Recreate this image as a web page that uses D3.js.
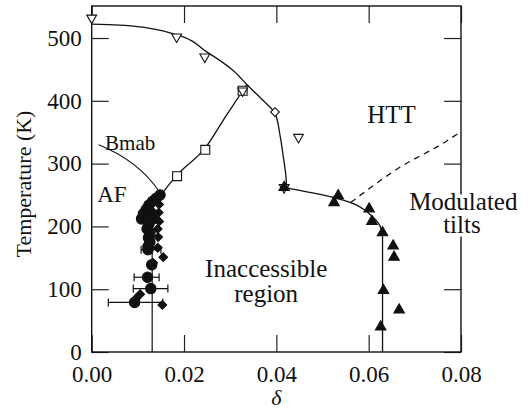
<!DOCTYPE html>
<html>
<head>
    <meta charset="utf-8" />
    <title>Phase diagram</title>
    <script src="https://d3js.org/d3.v7.min.js"></script>
    <style type='text/css'>
        body { margin: 0; background: #fff; }
        text { font-family: 'Liberation Serif', 'DejaVu Serif', serif; fill: #111; }
    </style>
</head>
<body>
    <script>
        // tick labels
        var xTicks = [0, 0.02, 0.04, 0.06, 0.08];
        var yTicks = [0, 100, 200, 300, 400, 500];

        // phase boundaries (delta, temperature)
        var httDelta = [0, 0.009, 0.0184, 0.0249, 0.0307, 0.0336, 0.0372, 0.0397, 0.0408, 0.0415, 0.0421, 0.0422];
        var httTemp = [522, 519, 505, 478, 448, 426, 400, 380, 345, 311, 278, 262];

        var tiltDelta = [0.0417, 0.043, 0.0495, 0.0561, 0.0603, 0.0625, 0.063, 0.063];
        var tiltTemp = [262, 260, 251, 238, 219, 200, 185, 0];

        var modDelta = [0.0561, 0.0661, 0.0769, 0.08];
        var modTemp = [238, 291, 336, 351];

        var bmabDelta = [0.0152, 0.0185, 0.0246, 0.029, 0.0336];
        var bmabTemp = [252, 282, 325, 375, 426];

        var afLineDelta = [0.0131, 0.0131];
        var afLineTemp = [0, 245];

        // markers
        var openTriDelta = [0, 0.0184, 0.0245, 0.0327, 0.0448, 0.0417];
        var openTriTemp = [532, 502, 470, 416, 342, 262];

        var squareDelta = [0.0185, 0.0246, 0.0327];
        var squareTemp = [280, 322, 416];

        var openDiaDelta = [0.0397];
        var openDiaTemp = [382];

        var triDelta = [0.0417, 0.0534, 0.0525, 0.0601, 0.0607, 0.0630, 0.0653, 0.0655, 0.0632, 0.0666, 0.0626];
        var triTemp = [262, 249, 238, 228, 208, 190, 169, 151, 98, 67, 40];

        var circDelta = [0.0148, 0.0140, 0.0132, 0.0124, 0.0118, 0.0112, 0.0108, 0.0128, 0.0132, 0.0124, 0.0120, 0.0126, 0.0123, 0.0126, 0.0122, 0.0122, 0.0130, 0.0121, 0.0128, 0.0093];
        var circTemp = [250, 245, 240, 234, 227, 220, 212, 222, 212, 204, 196, 190, 182, 175, 168, 163, 139, 119, 101, 79];

        var diaDelta = [0.0145, 0.0146, 0.0145, 0.0146, 0.0143, 0.0144, 0.0143, 0.0155, 0.0133, 0.0105, 0.0097, 0.0153];
        var diaTemp = [246, 235, 222, 208, 196, 183, 166, 151, 142, 92, 86, 75];

        var errTemp = [163, 119, 101, 79];
        var errLo = [0.0107, 0.0092, 0.0090, 0.0036];
        var errHi = [0.0150, 0.0146, 0.0165, 0.0154];

        var width = 531, height = 411;

        var svg = d3.select('body').append('svg')
            .attr('width', width)
            .attr('height', height);

        var x = d3.scaleLinear().domain([0, 0.08]).range([91.7, 461]);
        var y = d3.scaleLinear().domain([0, 551]).range([352, 6]);

        var zip = (a, b) => a.map((d, i) => [d, b[i]]);

        // axes (ticks inside, frame)
        var tickLen = 17;
        svg.append('g')
            .attr('transform', `translate(0,${y(0)})`)
            .call(d3.axisBottom(x).tickValues(xTicks).tickSize(-tickLen).tickPadding(14)
                .tickFormat(d3.format('.2f')))
            .call(g => g.select('.domain').remove())
            .call(g => g.selectAll('text').style('font-size', '23px'));

        svg.append('g')
            .attr('transform', `translate(0,${y(551)})`)
            .call(d3.axisTop(x).tickValues(xTicks).tickSize(-tickLen).tickFormat(''))
            .call(g => g.select('.domain').remove());

        svg.append('g')
            .attr('transform', `translate(${x(0)},0)`)
            .call(d3.axisLeft(y).tickValues(yTicks).tickSize(-tickLen).tickPadding(10))
            .call(g => g.select('.domain').remove())
            .call(g => g.selectAll('text').style('font-size', '23px'));

        svg.append('g')
            .attr('transform', `translate(${x(0.08)},0)`)
            .call(d3.axisRight(y).tickValues(yTicks).tickSize(-tickLen).tickFormat(''))
            .call(g => g.select('.domain').remove());

        svg.selectAll('.tick line').attr('stroke', '#222').attr('stroke-width', 1.2);

        svg.append('rect')
            .attr('x', x(0)).attr('y', y(551))
            .attr('width', x(0.08) - x(0)).attr('height', y(0) - y(551))
            .attr('fill', 'none').attr('stroke', '#111').attr('stroke-width', 1.4);

        // axis titles
        svg.append('text')
            .attr('transform', `translate(31,${(y(0) + y(551)) / 2 + 5}) rotate(-90)`)
            .attr('text-anchor', 'middle')
            .style('font-size', '22px')
            .text('Temperature (K)');

        svg.append('text')
            .attr('x', x(0.04)).attr('y', 405)
            .attr('text-anchor', 'middle')
            .style('font-size', '22px').style('font-style', 'italic')
            .text('δ');

        // boundaries
        var lineY = d3.line().x(d => x(d[0])).y(d => y(d[1])).curve(d3.curveMonotoneY);
        var lineX = d3.line().x(d => x(d[0])).y(d => y(d[1])).curve(d3.curveMonotoneX);

        svg.append('path').datum(zip(httDelta, httTemp)).attr('d', lineY)
            .attr('fill', 'none').attr('stroke', '#111').attr('stroke-width', 1.3);
        svg.append('path').datum(zip(tiltDelta, tiltTemp)).attr('d', lineY)
            .attr('fill', 'none').attr('stroke', '#111').attr('stroke-width', 1.3);
        svg.append('path').datum(zip(modDelta, modTemp)).attr('d', lineX)
            .attr('fill', 'none').attr('stroke', '#111').attr('stroke-width', 1.3)
            .attr('stroke-dasharray', '6,5');
        svg.append('path').datum(zip(bmabDelta, bmabTemp)).attr('d', lineX)
            .attr('fill', 'none').attr('stroke', '#111').attr('stroke-width', 1.3);
        svg.append('path').datum(zip(afLineDelta, afLineTemp)).attr('d', d3.line().x(d => x(d[0])).y(d => y(d[1])))
            .attr('fill', 'none').attr('stroke', '#111').attr('stroke-width', 1.2);

        // Bmab leader line
        var lp = d3.path();
        lp.moveTo(x(0.0015), y(330));
        lp.quadraticCurveTo(x(0.0100), y(305), x(0.0146), y(256));
        svg.append('path').attr('d', lp.toString())
            .attr('fill', 'none').attr('stroke', '#111').attr('stroke-width', 1.1);

        // error bars
        var eb = svg.append('g').attr('stroke', '#111').attr('stroke-width', 1.2);
        errTemp.forEach(function (t, i) {
            eb.append('line').attr('x1', x(errLo[i])).attr('x2', x(errHi[i])).attr('y1', y(t)).attr('y2', y(t));
            eb.append('line').attr('x1', x(errLo[i])).attr('x2', x(errLo[i])).attr('y1', y(t) - 4).attr('y2', y(t) + 4);
            eb.append('line').attr('x1', x(errHi[i])).attr('x2', x(errHi[i])).attr('y1', y(t) - 4).attr('y2', y(t) + 4);
        });

        // markers
        function marks(dx, dy, type, size, rot, fill) {
            svg.append('g').selectAll('path')
                .data(zip(dx, dy))
                .enter()
                .append('path')
                .attr('d', d3.symbol().type(type).size(size))
                .attr('transform', d => `translate(${x(d[0])},${y(d[1])}) rotate(${rot})`)
                .attr('fill', fill)
                .attr('stroke', '#111')
                .attr('stroke-width', 1.1);
        }

        marks(circDelta, circTemp, d3.symbolCircle, 85, 0, '#111');
        marks(diaDelta, diaTemp, d3.symbolSquare, 38, 45, '#111');
        marks(squareDelta, squareTemp, d3.symbolSquare, 80, 0, '#fff');
        marks(openTriDelta, openTriTemp, d3.symbolTriangle, 42, 180, '#fff');
        marks(openDiaDelta, openDiaTemp, d3.symbolSquare, 38, 45, '#fff');
        marks(triDelta, triTemp, d3.symbolTriangle, 48, 0, '#111');

        // region labels
        function label(tx, ty, s, size, anchor, halo) {
            var t = svg.append('text')
                .attr('x', x(tx)).attr('y', y(ty))
                .attr('text-anchor', anchor)
                .style('font-size', size + 'px')
                .text(s);
            if (halo) {
                t.attr('stroke', '#fff').attr('stroke-width', 7).attr('paint-order', 'stroke');
            }
        }
        label(0.0597, 365, 'HTT', 25, 'start');
        label(0.0805, 226, 'Modulated', 25, 'middle', true);
        label(0.0802, 189, 'tilts', 25, 'middle', true);
        label(0.0378, 120, 'Inaccessible', 25, 'middle');
        label(0.0378, 80, 'region', 25, 'middle');
        label(0.0012, 239, 'AF', 23, 'start');
        label(0.0029, 322, 'Bmab', 21, 'start');
    </script>
</body>
</html>
